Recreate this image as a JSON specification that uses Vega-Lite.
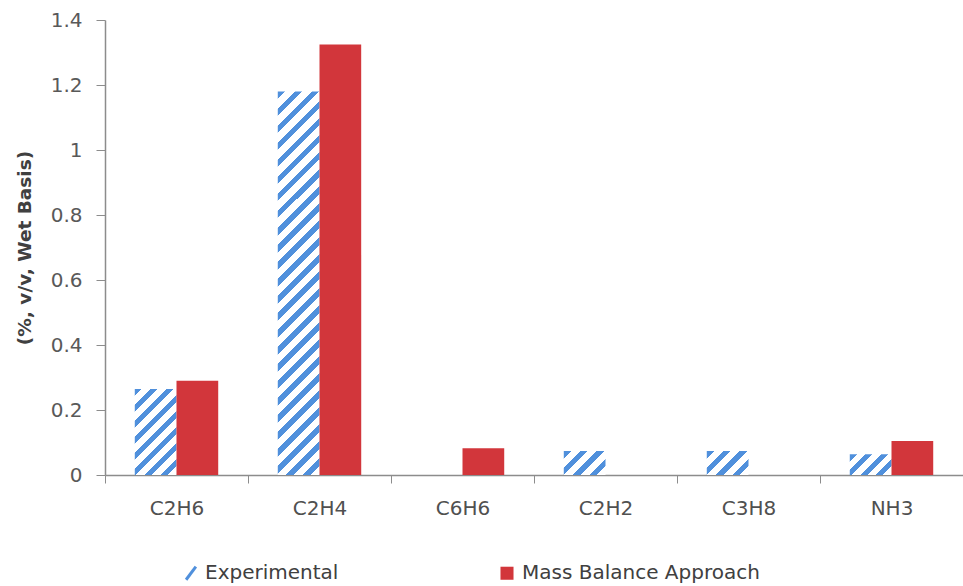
{
  "$schema": "https://vega.github.io/schema/vega-lite/v6.json",
  "autosize": {"type": "none"},
  "width": 858,
  "height": 455,
  "padding": {"left": 105, "top": 20, "right": 0, "bottom": 111},
  "background": "white",
  "config": {
    "view": {"stroke": null},
    "font": "DejaVu Sans"
  },
  "data": {
    "values": [
      {"compound": "C2H6", "series": "Experimental", "value": 0.265},
      {"compound": "C2H6", "series": "Mass Balance Approach", "value": 0.29},
      {"compound": "C2H4", "series": "Experimental", "value": 1.18},
      {"compound": "C2H4", "series": "Mass Balance Approach", "value": 1.325},
      {"compound": "C6H6", "series": "Mass Balance Approach", "value": 0.082},
      {"compound": "C2H2", "series": "Experimental", "value": 0.074},
      {"compound": "C3H8", "series": "Experimental", "value": 0.074},
      {"compound": "NH3", "series": "Experimental", "value": 0.064},
      {"compound": "NH3", "series": "Mass Balance Approach", "value": 0.105}
    ]
  },
  "mark": {"type": "bar"},
  "encoding": {
    "x": {
      "field": "compound",
      "type": "nominal",
      "sort": ["C2H6", "C2H4", "C6H6", "C2H2", "C3H8", "NH3"],
      "scale": {"paddingInner": 0, "paddingOuter": 0},
      "axis": {
        "title": null,
        "labelAngle": 0,
        "labelFontSize": 20,
        "labelColor": "#505050",
        "labelPadding": 15,
        "tickBand": "extent",
        "tickSize": 8,
        "tickColor": "#8c8c8c",
        "domainColor": "#8c8c8c",
        "domainWidth": 1.5,
        "grid": false
      }
    },
    "xOffset": {
      "field": "series",
      "type": "nominal",
      "scale": {"paddingInner": 0, "paddingOuter": 0.714}
    },
    "y": {
      "field": "value",
      "type": "quantitative",
      "scale": {"domain": [0, 1.4], "nice": false},
      "axis": {
        "title": "(%, v/v, Wet Basis)",
        "titleFontSize": 18.5,
        "titleFontWeight": "bold",
        "titleColor": "#404040",
        "titlePadding": 16,
        "values": [0, 0.2, 0.4, 0.6, 0.8, 1, 1.2, 1.4],
        "format": "~g",
        "labelFontSize": 20,
        "labelColor": "#595959",
        "labelPadding": 14,
        "tickSize": 9,
        "tickColor": "#8c8c8c",
        "domainColor": "#8c8c8c",
        "domainWidth": 1.5,
        "grid": false
      }
    },
    "fill": {
      "field": "series",
      "type": "nominal",
      "scale": {"domain": ["Experimental", "Mass Balance Approach"], "range": ["#5090dc", "#d2363b"]},
      "legend": {
        "orient": "none",
        "legendX": 75,
        "legendY": 543,
        "direction": "horizontal",
        "title": null,
        "labelFontSize": 20,
        "labelColor": "#404040",
        "labelLimit": 500,
        "symbolSize": 170,
        "symbolType": "square",
        "labelOffset": 5,
        "columnPadding": 155,
        "encode": {
          "symbols": {
            "update": {
              "shape": [{"test": "datum.value === 'Experimental'", "value": "M-0.6,1L0.9,-1"}, {"value": "square"}],
              "stroke": [{"test": "datum.value === 'Experimental'", "value": "#5090dc"}, {"value": "transparent"}],
              "strokeWidth": {"value": 3}
            }
          }
        }
      },
      "condition": [
        {
          "test": "datum.series === 'Experimental' && datum.compound === 'C2H4'",
          "value": {
            "gradient": "linear", "x1": 0, "y1": 0, "x2": 0.11915, "y2": 1.09577,
            "stops": [
              {"offset": 0, "color": "#5090dc"}, {"offset": 0.018, "color": "#5090dc"}, {"offset": 0.018, "color": "#ffffff"}, {"offset": 0.04, "color": "#ffffff"},
              {"offset": 0.04, "color": "#5090dc"}, {"offset": 0.058, "color": "#5090dc"}, {"offset": 0.058, "color": "#ffffff"}, {"offset": 0.08, "color": "#ffffff"},
              {"offset": 0.08, "color": "#5090dc"}, {"offset": 0.098, "color": "#5090dc"}, {"offset": 0.098, "color": "#ffffff"}, {"offset": 0.12, "color": "#ffffff"},
              {"offset": 0.12, "color": "#5090dc"}, {"offset": 0.138, "color": "#5090dc"}, {"offset": 0.138, "color": "#ffffff"}, {"offset": 0.16, "color": "#ffffff"},
              {"offset": 0.16, "color": "#5090dc"}, {"offset": 0.178, "color": "#5090dc"}, {"offset": 0.178, "color": "#ffffff"}, {"offset": 0.2, "color": "#ffffff"},
              {"offset": 0.2, "color": "#5090dc"}, {"offset": 0.218, "color": "#5090dc"}, {"offset": 0.218, "color": "#ffffff"}, {"offset": 0.24, "color": "#ffffff"},
              {"offset": 0.24, "color": "#5090dc"}, {"offset": 0.258, "color": "#5090dc"}, {"offset": 0.258, "color": "#ffffff"}, {"offset": 0.28, "color": "#ffffff"},
              {"offset": 0.28, "color": "#5090dc"}, {"offset": 0.298, "color": "#5090dc"}, {"offset": 0.298, "color": "#ffffff"}, {"offset": 0.32, "color": "#ffffff"},
              {"offset": 0.32, "color": "#5090dc"}, {"offset": 0.338, "color": "#5090dc"}, {"offset": 0.338, "color": "#ffffff"}, {"offset": 0.36, "color": "#ffffff"},
              {"offset": 0.36, "color": "#5090dc"}, {"offset": 0.378, "color": "#5090dc"}, {"offset": 0.378, "color": "#ffffff"}, {"offset": 0.4, "color": "#ffffff"},
              {"offset": 0.4, "color": "#5090dc"}, {"offset": 0.418, "color": "#5090dc"}, {"offset": 0.418, "color": "#ffffff"}, {"offset": 0.44, "color": "#ffffff"},
              {"offset": 0.44, "color": "#5090dc"}, {"offset": 0.458, "color": "#5090dc"}, {"offset": 0.458, "color": "#ffffff"}, {"offset": 0.48, "color": "#ffffff"},
              {"offset": 0.48, "color": "#5090dc"}, {"offset": 0.498, "color": "#5090dc"}, {"offset": 0.498, "color": "#ffffff"}, {"offset": 0.52, "color": "#ffffff"},
              {"offset": 0.52, "color": "#5090dc"}, {"offset": 0.538, "color": "#5090dc"}, {"offset": 0.538, "color": "#ffffff"}, {"offset": 0.56, "color": "#ffffff"},
              {"offset": 0.56, "color": "#5090dc"}, {"offset": 0.578, "color": "#5090dc"}, {"offset": 0.578, "color": "#ffffff"}, {"offset": 0.6, "color": "#ffffff"},
              {"offset": 0.6, "color": "#5090dc"}, {"offset": 0.618, "color": "#5090dc"}, {"offset": 0.618, "color": "#ffffff"}, {"offset": 0.64, "color": "#ffffff"},
              {"offset": 0.64, "color": "#5090dc"}, {"offset": 0.658, "color": "#5090dc"}, {"offset": 0.658, "color": "#ffffff"}, {"offset": 0.68, "color": "#ffffff"},
              {"offset": 0.68, "color": "#5090dc"}, {"offset": 0.698, "color": "#5090dc"}, {"offset": 0.698, "color": "#ffffff"}, {"offset": 0.72, "color": "#ffffff"},
              {"offset": 0.72, "color": "#5090dc"}, {"offset": 0.738, "color": "#5090dc"}, {"offset": 0.738, "color": "#ffffff"}, {"offset": 0.76, "color": "#ffffff"},
              {"offset": 0.76, "color": "#5090dc"}, {"offset": 0.778, "color": "#5090dc"}, {"offset": 0.778, "color": "#ffffff"}, {"offset": 0.8, "color": "#ffffff"},
              {"offset": 0.8, "color": "#5090dc"}, {"offset": 0.818, "color": "#5090dc"}, {"offset": 0.818, "color": "#ffffff"}, {"offset": 0.84, "color": "#ffffff"},
              {"offset": 0.84, "color": "#5090dc"}, {"offset": 0.858, "color": "#5090dc"}, {"offset": 0.858, "color": "#ffffff"}, {"offset": 0.88, "color": "#ffffff"},
              {"offset": 0.88, "color": "#5090dc"}, {"offset": 0.898, "color": "#5090dc"}, {"offset": 0.898, "color": "#ffffff"}, {"offset": 0.92, "color": "#ffffff"},
              {"offset": 0.92, "color": "#5090dc"}, {"offset": 0.938, "color": "#5090dc"}, {"offset": 0.938, "color": "#ffffff"}, {"offset": 0.96, "color": "#ffffff"},
              {"offset": 0.96, "color": "#5090dc"}, {"offset": 0.978, "color": "#5090dc"}, {"offset": 0.978, "color": "#ffffff"}, {"offset": 1, "color": "#ffffff"}
            ]
          }
        },
        {
          "test": "datum.series === 'Experimental' && datum.compound === 'C2H6'",
          "value": {
            "gradient": "linear", "x1": 0, "y1": 0, "x2": 0.5823, "y2": 1.2023,
            "stops": [
              {"offset": 0, "color": "#5090dc"}, {"offset": 0.05625, "color": "#5090dc"}, {"offset": 0.05625, "color": "#ffffff"}, {"offset": 0.125, "color": "#ffffff"},
              {"offset": 0.125, "color": "#5090dc"}, {"offset": 0.18125, "color": "#5090dc"}, {"offset": 0.18125, "color": "#ffffff"}, {"offset": 0.25, "color": "#ffffff"},
              {"offset": 0.25, "color": "#5090dc"}, {"offset": 0.30625, "color": "#5090dc"}, {"offset": 0.30625, "color": "#ffffff"}, {"offset": 0.375, "color": "#ffffff"},
              {"offset": 0.375, "color": "#5090dc"}, {"offset": 0.43125, "color": "#5090dc"}, {"offset": 0.43125, "color": "#ffffff"}, {"offset": 0.5, "color": "#ffffff"},
              {"offset": 0.5, "color": "#5090dc"}, {"offset": 0.55625, "color": "#5090dc"}, {"offset": 0.55625, "color": "#ffffff"}, {"offset": 0.625, "color": "#ffffff"},
              {"offset": 0.625, "color": "#5090dc"}, {"offset": 0.68125, "color": "#5090dc"}, {"offset": 0.68125, "color": "#ffffff"}, {"offset": 0.75, "color": "#ffffff"},
              {"offset": 0.75, "color": "#5090dc"}, {"offset": 0.80625, "color": "#5090dc"}, {"offset": 0.80625, "color": "#ffffff"}, {"offset": 0.875, "color": "#ffffff"},
              {"offset": 0.875, "color": "#5090dc"}, {"offset": 0.93125, "color": "#5090dc"}, {"offset": 0.93125, "color": "#ffffff"}, {"offset": 1, "color": "#ffffff"}
            ]
          }
        },
        {
          "test": "datum.series === 'Experimental' && (datum.compound === 'C2H2' || datum.compound === 'C3H8')",
          "value": {
            "gradient": "linear", "x1": 0, "y1": 0, "x2": 1.1833, "y2": 0.6825,
            "stops": [
              {"offset": 0, "color": "#5090dc"}, {"offset": 0.1125, "color": "#5090dc"}, {"offset": 0.1125, "color": "#ffffff"}, {"offset": 0.25, "color": "#ffffff"},
              {"offset": 0.25, "color": "#5090dc"}, {"offset": 0.3625, "color": "#5090dc"}, {"offset": 0.3625, "color": "#ffffff"}, {"offset": 0.5, "color": "#ffffff"},
              {"offset": 0.5, "color": "#5090dc"}, {"offset": 0.6125, "color": "#5090dc"}, {"offset": 0.6125, "color": "#ffffff"}, {"offset": 0.75, "color": "#ffffff"},
              {"offset": 0.75, "color": "#5090dc"}, {"offset": 0.8625, "color": "#5090dc"}, {"offset": 0.8625, "color": "#ffffff"}, {"offset": 1, "color": "#ffffff"}
            ]
          }
        },
        {
          "test": "datum.series === 'Experimental' && datum.compound === 'NH3'",
          "value": {
            "gradient": "linear", "x1": 0, "y1": 0, "x2": 1.1999, "y2": 0.5985,
            "stops": [
              {"offset": 0, "color": "#5090dc"}, {"offset": 0.1125, "color": "#5090dc"}, {"offset": 0.1125, "color": "#ffffff"}, {"offset": 0.25, "color": "#ffffff"},
              {"offset": 0.25, "color": "#5090dc"}, {"offset": 0.3625, "color": "#5090dc"}, {"offset": 0.3625, "color": "#ffffff"}, {"offset": 0.5, "color": "#ffffff"},
              {"offset": 0.5, "color": "#5090dc"}, {"offset": 0.6125, "color": "#5090dc"}, {"offset": 0.6125, "color": "#ffffff"}, {"offset": 0.75, "color": "#ffffff"},
              {"offset": 0.75, "color": "#5090dc"}, {"offset": 0.8625, "color": "#5090dc"}, {"offset": 0.8625, "color": "#ffffff"}, {"offset": 1, "color": "#ffffff"}
            ]
          }
        }
      ]
    }
  }
}
